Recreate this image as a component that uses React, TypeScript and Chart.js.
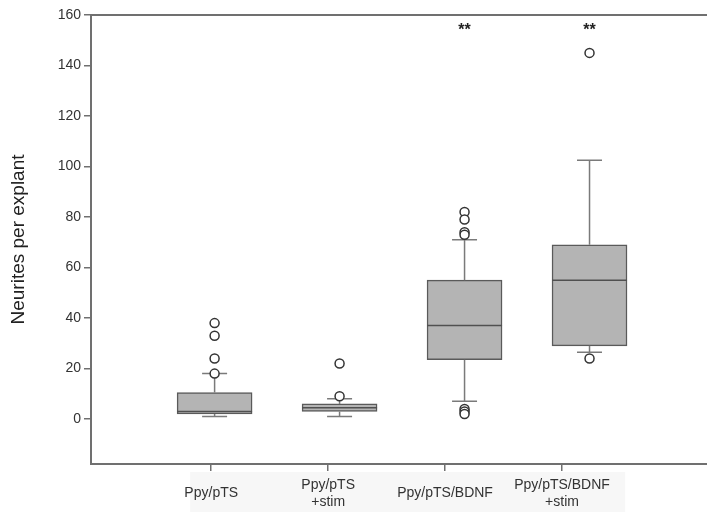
import React, { useEffect, useRef } from "react";
import { Chart, registerables } from "chart.js";

Chart.register(...registerables);

const categories: string[][] = [["Ppy/pTS"], ["Ppy/pTS", "+stim"], ["Ppy/pTS/BDNF"], ["Ppy/pTS/BDNF", "+stim"]];
const whiskerLow = [1, 1, 7, 26.5];
const q1 = [2, 3, 23.5, 29];
const median = [3, 4.5, 37, 55];
const q3 = [10.5, 6, 55, 69];
const whiskerHigh = [18, 8, 71, 102.5];
const outliers: number[][] = [[38, 33, 24, 18], [22, 9], [82, 79, 74, 73, 4, 3, 2], [145, 24]];
const significance = ["", "", "**", "**"];
const yTicks = [0, 20, 40, 60, 80, 100, 120, 140, 160];
const yTitle = "Neurites per explant";

const FONT = "'Liberation Sans', Arial, Helvetica, sans-serif";

const boxPlugin = {
  id: "boxParts",
  beforeDraw(chart: any) {
    const { ctx, chartArea } = chart;
    const xl = chart.scales.xl;
    ctx.save();
    ctx.fillStyle = "#f7f7f7";
    const l = xl.getPixelForValue(0.82);
    const r = xl.getPixelForValue(4.54);
    ctx.fillRect(l, chartArea.bottom + 8, r - l, chart.height - chartArea.bottom - 8);
    ctx.restore();
  },
  afterDatasetDraw(chart: any, args: any) {
    if (args.index !== 0) return;
    const { ctx } = chart;
    const xs = chart.scales.x;
    const ys = chart.scales.y;
    const half = xs.getPixelForValue(1.1) - xs.getPixelForValue(1);
    ctx.save();
    for (let i = 0; i < categories.length; i++) {
      const cx = xs.getPixelForValue(i + 1);
      ctx.strokeStyle = "#7a7a7a";
      ctx.lineWidth = 1.5;
      ctx.beginPath();
      ctx.moveTo(cx, ys.getPixelForValue(q3[i]));
      ctx.lineTo(cx, ys.getPixelForValue(whiskerHigh[i]));
      ctx.moveTo(cx, ys.getPixelForValue(q1[i]));
      ctx.lineTo(cx, ys.getPixelForValue(whiskerLow[i]));
      ctx.moveTo(cx - half, ys.getPixelForValue(whiskerHigh[i]));
      ctx.lineTo(cx + half, ys.getPixelForValue(whiskerHigh[i]));
      ctx.moveTo(cx - half, ys.getPixelForValue(whiskerLow[i]));
      ctx.lineTo(cx + half, ys.getPixelForValue(whiskerLow[i]));
      ctx.stroke();
      const bh = xs.getPixelForValue(1.3) - xs.getPixelForValue(1);
      ctx.strokeStyle = "#505050";
      ctx.lineWidth = 1.5;
      ctx.beginPath();
      ctx.moveTo(cx - bh, ys.getPixelForValue(median[i]));
      ctx.lineTo(cx + bh, ys.getPixelForValue(median[i]));
      ctx.stroke();
    }
    ctx.restore();
  },
  afterDraw(chart: any) {
    const { ctx, chartArea } = chart;
    const xs = chart.scales.x;
    const ys = chart.scales.y;
    ctx.save();
    ctx.strokeStyle = "#707070";
    ctx.lineWidth = 2;
    ctx.beginPath();
    ctx.moveTo(chartArea.left, chartArea.top);
    ctx.lineTo(chartArea.right, chartArea.top);
    ctx.stroke();
    ctx.fillStyle = "#222";
    ctx.font = `bold 16px ${FONT}`;
    ctx.textAlign = "center";
    ctx.textBaseline = "middle";
    for (let i = 0; i < categories.length; i++) {
      if (significance[i]) {
        ctx.fillText(significance[i], xs.getPixelForValue(i + 1), ys.getPixelForValue(155) + 3);
      }
    }
    ctx.restore();
  },
};

export default function App() {
  const ref = useRef<HTMLCanvasElement | null>(null);
  useEffect(() => {
    document.body.style.margin = "0";
    if (!ref.current) return;
    const chart = new Chart(ref.current, {
      type: "bar",
      data: {
        datasets: [
          {
            type: "bar",
            data: categories.map((_, i) => ({ x: i + 1, y: [q1[i], q3[i]] })) as any,
            xAxisID: "x",
            yAxisID: "y",
            barThickness: 75,
            backgroundColor: "#b4b4b4",
            borderColor: "#5a5a5a",
            borderWidth: 1.5,
            borderSkipped: false,
            order: 2,
          } as any,
          {
            type: "scatter",
            data: outliers.flatMap((arr, i) => arr.map((v) => ({ x: i + 1, y: v }))),
            xAxisID: "x",
            yAxisID: "y",
            pointRadius: 4.5,
            pointBackgroundColor: "#ffffff",
            pointBorderColor: "#333333",
            pointBorderWidth: 1.5,
            order: 1,
          } as any,
        ],
      },
      options: {
        responsive: false,
        animation: false,
        layout: { autoPadding: false, padding: { top: 15, left: 0, right: 0, bottom: 0 } },
        plugins: { legend: { display: false }, tooltip: { enabled: false } },
        scales: {
          x: { type: "linear", min: 0.011, max: 4.94, display: false, offset: false, grid: { offset: false } },
          xl: {
            type: "linear",
            position: "bottom",
            min: -0.028,
            max: 5.24,
            offset: false,
            afterBuildTicks: (s: any) => {
              s.ticks = categories.map((_, i) => ({ value: i + 1 }));
            },
            afterFit: (s: any) => {
              s.height = 48;
            },
            ticks: {
              callback: (v: any) => categories[Number(v) - 1] ?? "",
              font: { family: FONT, size: 14, lineHeight: 1.2 },
              color: "#333",
              maxRotation: 0,
              autoSkip: false,
              crossAlign: "center",
              padding: 14,
            },
            grid: { offset: false, drawOnChartArea: false, tickLength: 7, color: "#707070", lineWidth: 1.5 },
            border: { color: "#707070", width: 2 },
          },
          y: {
            type: "linear",
            min: -17.8,
            max: 160,
            afterBuildTicks: (s: any) => {
              s.ticks = yTicks.map((v) => ({ value: v }));
            },
            afterFit: (s: any) => {
              s.width = 91;
            },
            ticks: { font: { family: FONT, size: 14 }, color: "#333", padding: 3 },
            grid: { drawOnChartArea: false, tickLength: 7, color: "#707070", lineWidth: 1.5 },
            border: { color: "#707070", width: 2 },
            title: {
              display: true,
              text: yTitle,
              font: { family: FONT, size: 19 },
              color: "#222",
              padding: { top: 7, bottom: 0 },
            },
          },
        },
      } as any,
      plugins: [boxPlugin],
    });
    return () => chart.destroy();
  }, []);
  return (
    <div style={{ width: 707, height: 512 }}>
      <canvas ref={ref} width={707} height={512} />
    </div>
  );
}
